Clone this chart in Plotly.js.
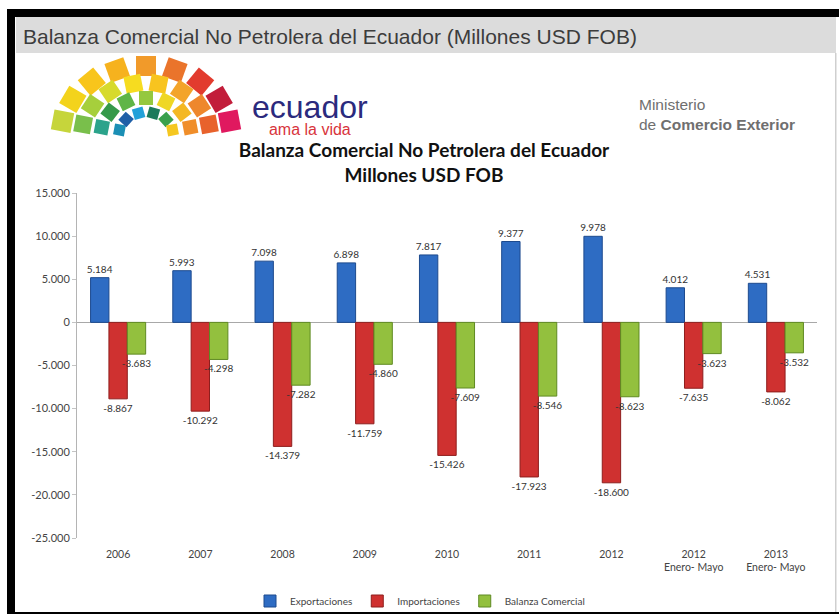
<!DOCTYPE html>
<html>
<head>
<meta charset="utf-8">
<script src="https://cdn.plot.ly/plotly-3.0.1.min.js"></script>
<style>
  html, body { margin: 0; padding: 0; background: #ffffff; }
  #chart { width: 839px; height: 614px; }
</style>
</head>
<body>
<div id="chart"></div>
<script>
// ---- Data ----
const categories = ["2006", "2007", "2008", "2009", "2010", "2011", "2012", "2012<br>Enero- Mayo", "2013<br>Enero- Mayo"];
const exportaciones = [5184, 5993, 7098, 6898, 7817, 9377, 9978, 4012, 4531];
const importaciones = [-8867, -10292, -14379, -11759, -15426, -17923, -18600, -7635, -8062];
const balanzaComercial = [-3683, -4298, -7282, -4860, -7609, -8546, -8623, -3623, -3532];
const seriesNames = ["Exportaciones", "Importaciones", "Balanza Comercial"];
const tickValues = [15000, 10000, 5000, 0, -5000, -10000, -15000, -20000, -25000];
const tickLabels = ["15.000", "10.000", "5.000", "0", "-5.000", "-10.000", "-15.000", "-20.000", "-25.000"];

// ---- Helpers ----
function fmt(v) {
  const s = String(Math.abs(v)).replace(/\B(?=(\d{3})+(?!\d))/g, ".");
  return (v < 0 ? "-" : "") + s;
}
// plot area in pixels: x 77..817, y 193..538
const L = 77, R = 817, T = 193, B = 538;
const X = p => (p - L) / (R - L);
const Y = p => (B - p) / (B - T);

const labelFont = { family: "Lato, 'Open Sans', sans-serif", size: 10, color: "#333333" };

function barTrace(name, values, color, line) {
  return {
    type: "bar",
    name: name,
    x: categories,
    y: values,
    text: values.map(fmt),
    textposition: "outside",
    constraintext: "none",
    cliponaxis: false,
    textfont: labelFont,
    hoverinfo: "x+y+name",
    marker: { color: color, line: { color: line, width: 1 } }
  };
}

const traces = [
  barTrace(seriesNames[0], exportaciones, "#2e6cc3", "#1d4a8e"),
  barTrace(seriesNames[1], importaciones, "#cf3130", "#8e1e1d"),
  barTrace(seriesNames[2], balanzaComercial, "#93c03e", "#5f8a22")
];

// ---- Decoration: frame, header bar, logo fan ----
const shapes = [];
function rectPx(x0, y0, x1, y1, fill, layer) {
  shapes.push({ type: "rect", xref: "paper", yref: "paper",
    x0: X(x0), x1: X(x1), y0: Y(y1), y1: Y(y0),
    fillcolor: fill, line: { width: 0 }, layer: layer || "above" });
}
rectPx(16, 17, 836, 53, "#dcdcdc");
rectPx(7, 9, 839, 17, "#000000");
rectPx(7, 9, 15, 614, "#000000");
rectPx(7, 612, 839, 614, "#000000");
rectPx(835, 53, 836.5, 612, "#cfcfcf");

// logo fan of coloured squares (decorative)
const fanRings = [
  { rx: 85, size: 20, colors: ["#c6d53b", "#f3d31c", "#f8c51b", "#f6b21e", "#f19a2a", "#ea742b", "#e23b2e", "#c21d3a", "#e0195f"] },
  { rx: 64, size: 17, colors: ["#79bf4b", "#a6cf3c", "#d7da2c", "#f6dc20", "#f8c41f", "#f3a42a", "#ee872c", "#e8622c"] },
  { rx: 45, size: 14, colors: ["#2ba38b", "#35994a", "#5fb547", "#95c83f", "#efd725", "#f4b823", "#f08e2a"] },
  { rx: 27, size: 11, colors: ["#1b8fb5", "#1f5fa7", "#22a1d9", "#1c7a5b", "#3aa04b", "#f5c720"] }
];
const fcx = 146, fcy = 134;
fanRings.forEach(ring => {
  const n = ring.colors.length;
  const ry = ring.rx * 0.8;
  ring.colors.forEach((c, i) => {
    const t = Math.PI * (0.94 - 0.88 * i / (n - 1));
    const cx = fcx + ring.rx * Math.cos(t);
    const cy = fcy - ry * Math.sin(t);
    const ux = Math.cos(t), uy = -Math.sin(t);
    const vx = -uy, vy = ux;
    const h = ring.size / 2;
    const pts = [[h, h], [h, -h], [-h, -h], [-h, h]].map(([a, b]) =>
      [cx + a * ux + b * vx, cy + a * uy + b * vy]);
    const path = "M" + pts.map(p => X(p[0]).toFixed(5) + "," + Y(p[1]).toFixed(5)).join("L") + "Z";
    shapes.push({ type: "path", xref: "paper", yref: "paper", path: path,
      fillcolor: c, line: { width: 0 }, layer: "above" });
  });
});

const annotations = [
  { text: "Balanza Comercial No Petrolera del Ecuador (Millones USD FOB)", x: X(21), y: Y(36),
    xanchor: "left", yanchor: "middle",
    font: { family: "'Liberation Sans', Arial, sans-serif", size: 21, color: "#3c3c3c" } },
  { text: "<span style='font-size:32px;color:#2b2a7d'>ecuador</span><br>" +
          "<span style='font-size:16px;color:#d8343c'>ama la vida</span>",
    x: X(310), y: Y(114), xanchor: "center", yanchor: "middle", align: "center",
    font: { family: "'Liberation Sans', Arial, sans-serif", size: 13, color: "#2b2a7d" } },
  { text: "Ministerio<br>de <b>Comercio Exterior</b>", x: X(637), y: Y(115),
    xanchor: "left", yanchor: "middle", align: "left",
    font: { family: "'Liberation Sans', Arial, sans-serif", size: 15.5, color: "#6f6f6f" } }
].map(a => Object.assign({ xref: "paper", yref: "paper", showarrow: false }, a));

const layout = {
  width: 839,
  height: 614,
  margin: { l: L, r: 839 - R, t: T, b: 614 - B, pad: 0, autoexpand: false },
  paper_bgcolor: "#ffffff",
  plot_bgcolor: "#ffffff",
  title: {
    text: "Balanza Comercial No Petrolera del Ecuador<br>Millones USD FOB",
    font: { family: "Lato, 'Open Sans', sans-serif", size: 19, weight: "bold", color: "#111111" },
    xref: "paper", x: X(424), xanchor: "center",
    yref: "container", y: 1 - 157 / 614, yanchor: "top"
  },
  barmode: "group",
  bargap: 0.33,
  bargroupgap: 0,
  showlegend: true,
  legend: {
    orientation: "h",
    xref: "container", x: 420 / 839, xanchor: "center",
    yref: "container", y: 1 - 601 / 614, yanchor: "middle",
    bgcolor: "rgba(0,0,0,0)",
    font: { family: "Lato, 'Open Sans', sans-serif", size: 10, color: "#444444" },
    itemwidth: 30
  },
  xaxis: {
    type: "category",
    showline: false,
    showgrid: false,
    zeroline: false,
    ticks: "",
    ticklabelstandoff: 8,
    tickfont: { family: "Lato, 'Open Sans', sans-serif", size: 10.5, color: "#444444" }
  },
  yaxis: {
    range: [-25000, 15000],
    tickmode: "array",
    tickvals: tickValues,
    ticktext: tickLabels,
    showgrid: false,
    showline: true,
    linecolor: "#b4b4b4",
    linewidth: 1,
    ticks: "outside",
    ticklen: 4,
    tickcolor: "#c4c4c4",
    zeroline: true,
    zerolinecolor: "#a8a8a8",
    zerolinewidth: 1,
    tickfont: { family: "Lato, 'Open Sans', sans-serif", size: 11, color: "#444444" }
  },
  shapes: shapes,
  annotations: annotations
};

Plotly.newPlot("chart", traces, layout, { displayModeBar: false, staticPlot: true });
</script>
</body>
</html>
